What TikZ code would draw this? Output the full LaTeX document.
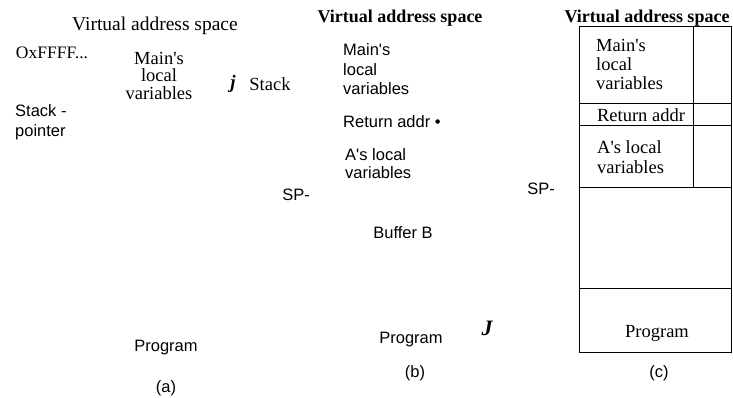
\documentclass[tikz,border=0pt]{standalone}
\usepackage{fontspec}
\setmainfont{Liberation Serif}
\setsansfont{Liberation Sans}
\usetikzlibrary{positioning}

\begin{document}
\begin{tikzpicture}[x=1pt, y=-1pt,
		txt/.style={inner sep=0pt, align=center, font=\fontsize{18.5}{17.5}\selectfont},
		sf/.style={inner sep=0pt, align=center, font=\sffamily\fontsize{16.5}{20}\selectfont},
		head/.style={inner sep=0pt, font=\bfseries\fontsize{18}{18}\selectfont},
		glyph/.style={inner sep=0pt, font=\bfseries\itshape\fontsize{19}{19}\selectfont},
		cell/.style={draw=black, line width=1pt}
	]
		\useasboundingbox (0,0) rectangle (733,398);
		% (a)
		\node[txt, font=\fontsize{19.5}{19.5}\selectfont] (headA) at (155,26) {Virtual address space};
		\node[txt, font=\fontsize{17.5}{17.5}\selectfont] (topA) at (52,53) {OxFFFF...};
		\node[txt] (mainA) at (159,75.5) {Main\textquotesingle s\\local\\variables};
		\node[glyph] (jA) at (233,84) {j};
		\node[txt] (stackA) at (270,84) {Stack};
		\node[sf, anchor=west, align=left] (spA) at (15,122) {Stack -\\pointer};
		\node[sf] (progA) at (166,348) {Program};
		\node[sf] (capA) at (166,388) {(a)};
		% (b)
		\node[head] (headB) at (400,18) {Virtual address space};
		\node[sf, anchor=west, align=left, font=\sffamily\fontsize{16.5}{19.5}\selectfont] (mainB) at (343,69.5) {Main\textquotesingle s\\local\\variables};
		\node[sf, anchor=west] (retB) at (343,122) {Return addr \textbullet};
		\node[sf, anchor=west, align=left, font=\sffamily\fontsize{16.5}{18}\selectfont] (localB) at (345,164) {A\textquotesingle s local\\variables};
		\node[sf] (spB) at (296,195) {SP-};
		\node[sf] (bufB) at (403,233) {Buffer B};
		\node[sf] (progB) at (411,340) {Program};
		\node[glyph, font=\bfseries\itshape\fontsize{22}{22}\selectfont] (jB) at (487,328) {J};
		\node[sf] (capB) at (415,373) {(b)};
		% (c)
		\draw[cell] (579,27) rectangle (731,352);
		\foreach \y in {104,126,188,288}
			\draw[cell] (579,\y) -- (731,\y);
		\draw[cell] (693,27) -- (693,188);
		\node[head] (headC) at (647,18) {Virtual address space};
		\node[txt, anchor=west, align=left, font=\fontsize{18.5}{19}\selectfont] (mainC) at (596,64) {Main\textquotesingle s\\local\\variables};
		\node[txt] (retC) at (641,115) {Return addr};
		\node[txt, anchor=west, align=left, font=\fontsize{18.5}{20}\selectfont] (localC) at (597,157) {A\textquotesingle s local\\variables};
		\node[sf] (spC) at (541,189) {SP-};
		\node[txt] (progC) at (657,333) {Program};
		\node[sf] (capC) at (659,373) {(c)};
	\end{tikzpicture}
\end{document}
